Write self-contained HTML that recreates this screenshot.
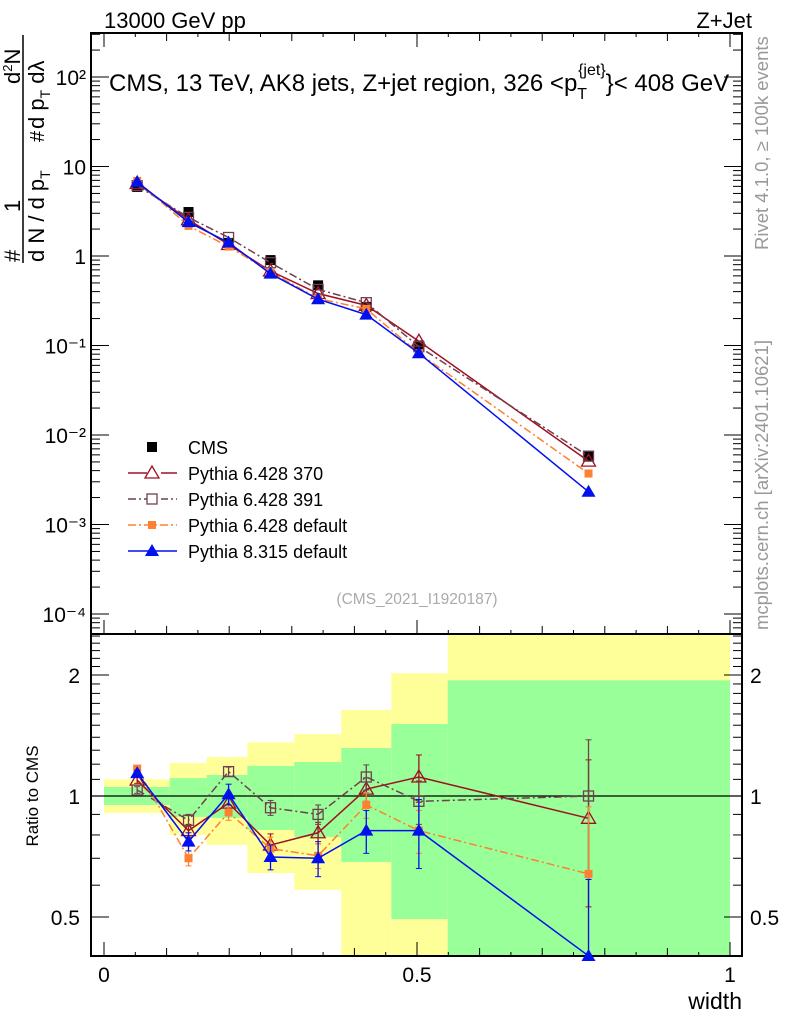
<!DOCTYPE html>
<html><head><meta charset="utf-8">
<style>
html,body{margin:0;padding:0;background:#fff;}
svg{display:block;font-family:"Liberation Sans",sans-serif;}
</style></head>
<body>
<svg id="chart" width="786" height="1024" viewBox="0 0 786 1024" xmlns="http://www.w3.org/2000/svg">
<g id="bands"></g>
<g id="axes"></g>
<g id="series"></g>
<text x="104" y="28" font-size="22">13000 GeV pp</text>
<text x="752" y="28" font-size="22" text-anchor="end">Z+Jet</text>
<text x="109" y="91" font-size="24">CMS, 13 TeV, AK8 jets, Z+jet region, 326 &lt;p<tspan font-size="16" dy="8">T</tspan><tspan font-size="16" dy="-24" dx="-9">{jet}</tspan><tspan dy="16">}&lt; 408 GeV</tspan></text>
<text x="417" y="604" font-size="15.5" fill="#aaa" text-anchor="middle">(CMS_2021_I1920187)</text>
<text transform="translate(768,250) rotate(-90)" font-size="18.5" fill="#999">Rivet 4.1.0, ≥ 100k events</text>
<text transform="translate(768,630) rotate(-90)" font-size="18.5" fill="#999">mcplots.cern.ch [arXiv:2401.10621]</text>
<g font-size="22">
<text transform="translate(20,262) rotate(-90)">#</text>
<text transform="translate(20,212) rotate(-90)">1</text>
<text transform="translate(20,84) rotate(-90)">d<tspan font-size="13" dy="-8">2</tspan><tspan dy="8">N</tspan></text>
<line x1="23" y1="263" x2="23" y2="35" stroke="#000" stroke-width="1.5"/>
<text transform="translate(44,262) rotate(-90)">d N / d p<tspan font-size="14" dy="6">T</tspan></text>
<text transform="translate(44,142) rotate(-90)" font-size="20">#</text>
<text transform="translate(44,129) rotate(-90)">d p<tspan font-size="14" dy="6">T</tspan><tspan dy="-6"> d</tspan>λ</text>
</g>
<text transform="translate(38,796) rotate(-90)" font-size="17" text-anchor="middle">Ratio to CMS</text>
<text x="742" y="1009" font-size="23" text-anchor="end">width</text>
<g id="legend"></g>
</svg>
<script>
// ---- data ----
const xs = [0.053, 0.135, 0.199, 0.266, 0.342, 0.419, 0.503, 0.774];
const cmsVals = [5.9, 3.1, 1.4, 0.9, 0.47, 0.27, 0.10, 0.0058];
const ratio370 = [1.095, 0.82, 0.96, 0.755, 0.81, 1.04, 1.115, 0.88];
const ratio391 = [1.035, 0.87, 1.15, 0.935, 0.90, 1.115, 0.97, 1.0];
const ratio6def = [1.17, 0.70, 0.91, 0.74, 0.71, 0.95, 0.82, 0.64];
const ratio8def = [1.14, 0.77, 1.01, 0.705, 0.70, 0.82, 0.82, 0.40];
const err370 = [0.02, 0.03, 0.03, 0.05, 0.05, 0.07, 0.15, 0.35];
const err391 = [0.02, 0.03, 0.03, 0.04, 0.05, 0.08, 0.12, 0.38];
const err6def = [0.02, 0.03, 0.04, 0.05, 0.05, 0.07, 0.1, 0.3];
const err8def = [0.02, 0.04, 0.06, 0.05, 0.07, 0.1, 0.16, 0.22];
const binEdges = [0, 0.105, 0.164, 0.229, 0.304, 0.379, 0.459, 0.549, 1.0];
const bandGreenLo = [0.95, 0.887, 0.882, 0.823, 0.79, 0.685, 0.494, 0.3];
const bandGreenHi = [1.053, 1.108, 1.128, 1.188, 1.215, 1.316, 1.51, 1.94];
const bandYellowLo = [0.907, 0.80, 0.755, 0.643, 0.584, 0.3, 0.3, 0.3];
const bandYellowHi = [1.10, 1.208, 1.25, 1.36, 1.426, 1.637, 2.02, 3.0];
const mainTickLabels = ["10⁻⁴","10⁻³","10⁻²","10⁻¹","1","10","10²"];
const mainTickPows = [-4,-3,-2,-1,0,1,2];
const ratioTickVals = [0.5, 1, 2];
const ratioTickLabels = ["0.5","1","2"];
const xTickVals = [0, 0.5, 1];
const xTickLabels = ["0","0.5","1"];

// ---- geometry ----
const L=91, R=742, T=33, MID=634, B=956;
const X = v => 104 + 626*v;
const YM = v => 256 - 89.5*Math.log10(v);
const YR = v => Math.max(MID, Math.min(B, 796 - 121*Math.log2(v)));
const NS="http://www.w3.org/2000/svg";
function mk(parent, tag, attrs){const e=document.createElementNS(NS,tag);for(const k in attrs)e.setAttribute(k,attrs[k]);parent.appendChild(e);return e;}

// bands
const gb=document.getElementById('bands');
for(let i=0;i<xs.length;i++){
  const y=mk(gb,'rect',{x:X(binEdges[i]),y:YR(bandYellowHi[i]),width:X(binEdges[i+1])-X(binEdges[i]),height:YR(bandYellowLo[i])-YR(bandYellowHi[i]),fill:'#ffff99'});
  
  
  const g=mk(gb,'rect',{x:X(binEdges[i]),y:YR(bandGreenHi[i]),width:X(binEdges[i+1])-X(binEdges[i]),height:YR(bandGreenLo[i])-YR(bandGreenHi[i]),fill:'#99ff99'});
  
  
}

// axes
const ga=document.getElementById('axes');
const sk={stroke:'#000','stroke-width':1};
mk(ga,'rect',{x:L,y:T,width:R-L,height:B-T,fill:'none',stroke:'#000','stroke-width':2});
mk(ga,'line',{x1:L,y1:MID,x2:R,y2:MID,stroke:'#000','stroke-width':2});
mk(ga,'line',{x1:L,y1:YR(1),x2:R,y2:YR(1),stroke:'#000','stroke-width':1.2});
for(let k=0;k<=20;k++){
  const v=k*0.05, x=X(v);
  const len = (k%10===0)?14:(k%2===0?8:4);
  mk(ga,'line',{x1:x,y1:T,x2:x,y2:T+len,...sk});
  mk(ga,'line',{x1:x,y1:MID,x2:x,y2:MID-len,...sk});
  mk(ga,'line',{x1:x,y1:B,x2:x,y2:B-len,...sk});
}
xTickVals.forEach((v,i)=>{const t=mk(ga,'text',{x:X(v),y:982,'font-size':21,'text-anchor':'middle'});t.textContent=xTickLabels[i];

});
for(let p=-5;p<=2;p++){
  for(let m=1;m<=9;m++){
    const v=m*Math.pow(10,p), y=YM(v);
    if(y<T||y>MID) continue;
    const len=m===1?18:9;
    mk(ga,'line',{x1:L,y1:y,x2:L+len,y2:y,...sk});
    mk(ga,'line',{x1:R,y1:y,x2:R-len,y2:y,...sk});
  }
}
mainTickPows.forEach((p,i)=>{const t=mk(ga,'text',{x:86,y:YM(Math.pow(10,p))+8,'font-size':21,'text-anchor':'end'});t.textContent=mainTickLabels[i];

});
const rt=[0.4,0.5,0.6,0.7,0.8,0.9,1,1.1,1.2,1.3,1.4,1.5,1.6,1.7,1.8,1.9,2,2.1,2.2,2.3,2.4,2.5];
rt.forEach(v=>{const y=YR(v); if(y<=MID||y>=B) return; const len=(v===0.5||v===1||v===2)?18:9;
  mk(ga,'line',{x1:L,y1:y,x2:L+len,y2:y,...sk});mk(ga,'line',{x1:R,y1:y,x2:R-len,y2:y,...sk});});
ratioTickVals.forEach((v,i)=>{
  const a=mk(ga,'text',{x:80,y:YR(v)+8,'font-size':21,'text-anchor':'end'});a.textContent=ratioTickLabels[i];
  
  
  const b=mk(ga,'text',{x:750,y:YR(v)+8,'font-size':21});b.textContent=ratioTickLabels[i];
  
  
});

// series
const gs=document.getElementById('series');
function marker(g,type,color,x,y){
  if(type==='sqfill') mk(g,'rect',{x:x-5,y:y-5,width:10,height:10,fill:color});
  if(type==='sqsmall') mk(g,'rect',{x:x-4,y:y-4,width:8,height:8,fill:color});
  if(type==='sqopen') mk(g,'rect',{x:x-5,y:y-5,width:10,height:10,fill:'none',stroke:color,'stroke-width':1.3});
  if(type==='tri') mk(g,'polygon',{points:`${x},${y-7} ${x-7},${y+5} ${x+7},${y+5}`,fill:color});
  if(type==='triopen') mk(g,'polygon',{points:`${x},${y-7} ${x-7},${y+5} ${x+7},${y+5}`,fill:'none',stroke:color,'stroke-width':1.3});
}
const models=[
  {name:'pythia-6428-370',label:'Pythia 6.428 370',r:ratio370,e:err370,color:'#a01020',dash:'',m:'triopen'},
  {name:'pythia-6428-391',label:'Pythia 6.428 391',r:ratio391,e:err391,color:'#704050',dash:'8,3,2,3',m:'sqopen'},
  {name:'pythia-6428-default',label:'Pythia 6.428 default',r:ratio6def,e:err6def,color:'#ff8030',dash:'8,3,2,3',m:'sqsmall'},
  {name:'pythia-8315-default',label:'Pythia 8.315 default',r:ratio8def,e:err8def,color:'#0010ee',dash:'',m:'tri'}
];
const gc=mk(gs,'g',{});


xs.forEach((x,i)=>{mk(gc,'line',{x1:X(x),y1:YM(cmsVals[i]*1.12),x2:X(x),y2:YM(cmsVals[i]/1.12),stroke:'#000'});marker(gc,'sqfill','#000',X(x),YM(cmsVals[i]));});
models.forEach(md=>{
  const g=mk(gs,'g',{});
  
  
  const pts=xs.map((x,i)=>`${X(x)},${YM(cmsVals[i]*md.r[i])}`).join(' ');
  mk(g,'polyline',{points:pts,fill:'none',stroke:md.color,'stroke-width':1.5,'stroke-dasharray':md.dash});
  xs.forEach((x,i)=>marker(g,md.m,md.color,X(x),YM(cmsVals[i]*md.r[i])));
  const g2=mk(gs,'g',{});
  
  
  const pts2=xs.map((x,i)=>`${X(x)},${YR(md.r[i])}`).join(' ');
  mk(g2,'polyline',{points:pts2,fill:'none',stroke:md.color,'stroke-width':1.5,'stroke-dasharray':md.dash});
  xs.forEach((x,i)=>{
    const y1=YR(md.r[i]+md.e[i]), y2=YR(md.r[i]-md.e[i]);
    mk(g2,'line',{x1:X(x),y1:y1,x2:X(x),y2:y2,stroke:md.color,'stroke-width':1.3});
    mk(g2,'line',{x1:X(x)-3,y1:y1,x2:X(x)+3,y2:y1,stroke:md.color});
    mk(g2,'line',{x1:X(x)-3,y1:y2,x2:X(x)+3,y2:y2,stroke:md.color});
    marker(g2,md.m,md.color,X(x),YR(md.r[i]));
  });
});

// legend
const gl=document.getElementById('legend');
const rows=[{label:'CMS',color:'#000',m:'sqfill',dash:null}].concat(models);
rows.forEach((r,i)=>{
  const y=447+i*26;
  const g=mk(gl,'g',{});
  
  
  if(r.dash!==null) mk(g,'line',{x1:128,y1:y,x2:177,y2:y,stroke:r.color,'stroke-width':1.5,'stroke-dasharray':r.dash});
  if(r.m==='sqopen'||r.m==='triopen') mk(g,'rect',{x:147,y:y-7,width:14,height:14,fill:'#fff'});
  marker(g,r.m,r.color,152,y);
  const t=mk(g,'text',{x:188,y:y+7,'font-size':18});t.textContent=r.label;
});
</script>
</body></html>
